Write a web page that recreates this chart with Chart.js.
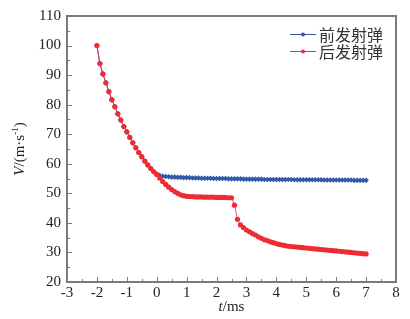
<!DOCTYPE html>
<html>
<head>
<meta charset="utf-8">
<script src="https://cdn.jsdelivr.net/npm/chart.js@4"></script>
<style>
  html, body { margin: 0; padding: 0; background: #fff; }
  #chart { display: block; }
</style>
</head>
<body>
<canvas id="chart" width="410" height="319"></canvas>
<script>
// time, ms (sampled every 0.1 ms)
const times = [
  -2.0, -1.9, -1.8, -1.7, -1.6, -1.5, -1.4, -1.3, -1.2, -1.1,
  -1.0, -0.9, -0.8, -0.7, -0.6, -0.5, -0.4, -0.3, -0.2, -0.1,
  0.0, 0.1, 0.2, 0.3, 0.4, 0.5, 0.6, 0.7, 0.8, 0.9,
  1.0, 1.1, 1.2, 1.3, 1.4, 1.5, 1.6, 1.7, 1.8, 1.9,
  2.0, 2.1, 2.2, 2.3, 2.4, 2.5, 2.6, 2.7, 2.8, 2.9,
  3.0, 3.1, 3.2, 3.3, 3.4, 3.5, 3.6, 3.7, 3.8, 3.9,
  4.0, 4.1, 4.2, 4.3, 4.4, 4.5, 4.6, 4.7, 4.8, 4.9,
  5.0, 5.1, 5.2, 5.3, 5.4, 5.5, 5.6, 5.7, 5.8, 5.9,
  6.0, 6.1, 6.2, 6.3, 6.4, 6.5, 6.6, 6.7, 6.8, 6.9,
  7.0
];

// 前发射弹
const frontV = [
  100, 93.9, 90.4, 87.4, 84.4, 81.7, 79.3, 76.9, 74.8, 72.6,
  70.8, 68.9, 67.1, 65.4, 63.8, 62.4, 60.9, 59.6, 58.4, 57.3,
  56.4, 56.0, 55.8, 55.7, 55.6, 55.5, 55.5, 55.4, 55.4, 55.3,
  55.3, 55.3, 55.2, 55.2, 55.2, 55.1, 55.1, 55.1, 55.1, 55.0,
  55.0, 55.0, 55.0, 55.0, 54.9, 54.9, 54.9, 54.9, 54.9, 54.8,
  54.8, 54.8, 54.8, 54.8, 54.8, 54.8, 54.7, 54.7, 54.7, 54.7,
  54.7, 54.7, 54.7, 54.7, 54.7, 54.7, 54.6, 54.6, 54.6, 54.6,
  54.6, 54.6, 54.6, 54.6, 54.6, 54.6, 54.5, 54.5, 54.5, 54.5,
  54.5, 54.5, 54.5, 54.5, 54.5, 54.5, 54.4, 54.4, 54.4, 54.4,
  54.4
];

// 后发射弹
const rearV = [
  100, 93.9, 90.4, 87.4, 84.4, 81.7, 79.3, 76.9, 74.8, 72.6,
  70.8, 68.9, 67.1, 65.4, 63.8, 62.4, 60.9, 59.6, 58.4, 57.3,
  56.4, 55.2, 54.0, 53.0, 52.1, 51.3, 50.6, 50.0, 49.5, 49.2,
  49.0, 48.9, 48.9, 48.8, 48.8, 48.8, 48.7, 48.7, 48.7, 48.7,
  48.6, 48.6, 48.6, 48.6, 48.5, 48.5, 46.0, 41.2, 39.3, 38.4,
  37.6, 37.0, 36.4, 35.9, 35.3, 34.8, 34.3, 34.0, 33.6, 33.3,
  33.0, 32.7, 32.5, 32.3, 32.1, 32.0, 31.9, 31.8, 31.7, 31.6,
  31.5, 31.4, 31.3, 31.2, 31.1, 31.0, 30.9, 30.8, 30.7, 30.6,
  30.5, 30.4, 30.3, 30.2, 30.1, 30.0, 29.9, 29.8, 29.7, 29.6,
  29.5
];

const seriesLabels = ["前发射弹", "后发射弹"];
const xTicks = [-3, 8];
const yTicks = [20, 110];

const BLUE = "#3358a8";
const RED = "#ee2b33";
const AXIS = "#7a7a7a";
const SERIF = "'Liberation Serif', 'Times New Roman', serif";

function points(vals) {
  return times.map((t, i) => ({ x: t, y: vals[i] }));
}

// frame, inward ticks, axis titles and the legend
const decorPlugin = {
  id: "decor",
  afterDraw(chart) {
    const ctx = chart.ctx;
    const { left, right, top, bottom } = chart.chartArea;
    const xs = chart.scales.x;
    const ys = chart.scales.y;

    ctx.save();
    ctx.strokeStyle = AXIS;
    ctx.lineWidth = 2;
    ctx.strokeRect(left, top, right - left, bottom - top);

    ctx.lineWidth = 1;
    ctx.beginPath();
    for (let v = xTicks[0]; v <= xTicks[1]; v += 0.5) {
      const px = Math.round(xs.getPixelForValue(v)) + 0.5;
      const len = Number.isInteger(v) ? 5 : 3;
      ctx.moveTo(px, bottom);
      ctx.lineTo(px, bottom - len);
    }
    for (let v = yTicks[0]; v <= yTicks[1]; v += 5) {
      const py = Math.round(ys.getPixelForValue(v)) + 0.5;
      const len = v % 10 === 0 ? 5 : 3;
      ctx.moveTo(left, py);
      ctx.lineTo(left + len, py);
    }
    ctx.stroke();

    // x title: t/ms
    ctx.fillStyle = "#222";
    ctx.textBaseline = "alphabetic";
    const cx = (left + right) / 2;
    ctx.font = "italic 15px " + SERIF;
    const wT = ctx.measureText("t").width;
    ctx.font = "15px " + SERIF;
    const wMs = ctx.measureText("/ms").width;
    let x0 = cx - (wT + wMs) / 2;
    ctx.font = "italic 15px " + SERIF;
    ctx.fillText("t", x0, 311);
    ctx.font = "15px " + SERIF;
    ctx.fillText("/ms", x0 + wT, 311);

    // y title: V/(m·s^-1)
    ctx.save();
    ctx.translate(24, (top + bottom) / 2);
    ctx.rotate(-Math.PI / 2);
    const parts = [
      { t: "V", f: "italic 15px " + SERIF, dy: 0 },
      { t: "/(m·s", f: "15px " + SERIF, dy: 0 },
      { t: "-1", f: "9px " + SERIF, dy: -6 },
      { t: ")", f: "15px " + SERIF, dy: 0 },
    ];
    let total = 0;
    parts.forEach(p => { ctx.font = p.f; p.w = ctx.measureText(p.t).width; total += p.w; });
    let px = -total / 2;
    parts.forEach(p => {
      ctx.font = p.f;
      ctx.fillText(p.t, px, p.dy);
      px += p.w;
    });
    ctx.restore();

    // legend
    const rows = [
      { label: seriesLabels[0], color: BLUE, y: 34 },
      { label: seriesLabels[1], color: RED, y: 51 },
    ];
    ctx.font = "16px 'Noto Sans CJK SC', sans-serif";
    ctx.textBaseline = "middle";
    rows.forEach(r => {
      ctx.strokeStyle = r.color;
      ctx.lineWidth = 1;
      ctx.beginPath();
      ctx.moveTo(290, r.y + 0.5);
      ctx.lineTo(316, r.y + 0.5);
      ctx.stroke();
      ctx.fillStyle = r.color;
      ctx.beginPath();
      ctx.arc(303, r.y + 0.5, 2, 0, Math.PI * 2);
      ctx.fill();
      ctx.fillStyle = "#333";
      ctx.fillText(r.label, 319, r.y + 1);
    });
    ctx.restore();
  },
};

new Chart(document.getElementById("chart"), {
  type: "line",
  data: {
    datasets: [
      {
        label: seriesLabels[0],
        data: points(frontV),
        borderColor: BLUE,
        backgroundColor: BLUE,
        borderWidth: 1,
        pointStyle: "rectRot",
        pointRadius: 2.8,
        pointBorderWidth: 0,
        order: 1,
      },
      {
        label: seriesLabels[1],
        data: points(rearV),
        borderColor: "rgba(238, 43, 51, 0.8)",
        backgroundColor: RED,
        borderWidth: 1,
        pointStyle: "circle",
        pointRadius: 2.6,
        pointBorderWidth: 0,
        order: 0,
      },
    ],
  },
  options: {
    responsive: false,
    animation: false,
    layout: { padding: { top: 16, right: 14, left: 0, bottom: 0 } },
    plugins: {
      legend: { display: false },
      tooltip: { enabled: false },
    },
    scales: {
      x: {
        type: "linear",
        min: xTicks[0],
        max: xTicks[1],
        grid: { display: false, drawTicks: false },
        border: { display: false },
        ticks: {
          stepSize: 1,
          padding: 2,
          color: "#222",
          font: { family: SERIF, size: 15 },
          maxRotation: 0,
        },
        afterFit(scale) { scale.height = 37; },
      },
      y: {
        min: yTicks[0],
        max: yTicks[1],
        grid: { display: false, drawTicks: false },
        border: { display: false },
        ticks: {
          stepSize: 10,
          padding: 6,
          color: "#222",
          font: { family: SERIF, size: 15 },
        },
        afterFit(scale) { scale.width = 67; },
      },
    },
  },
  plugins: [decorPlugin],
});
</script>
</body>
</html>
